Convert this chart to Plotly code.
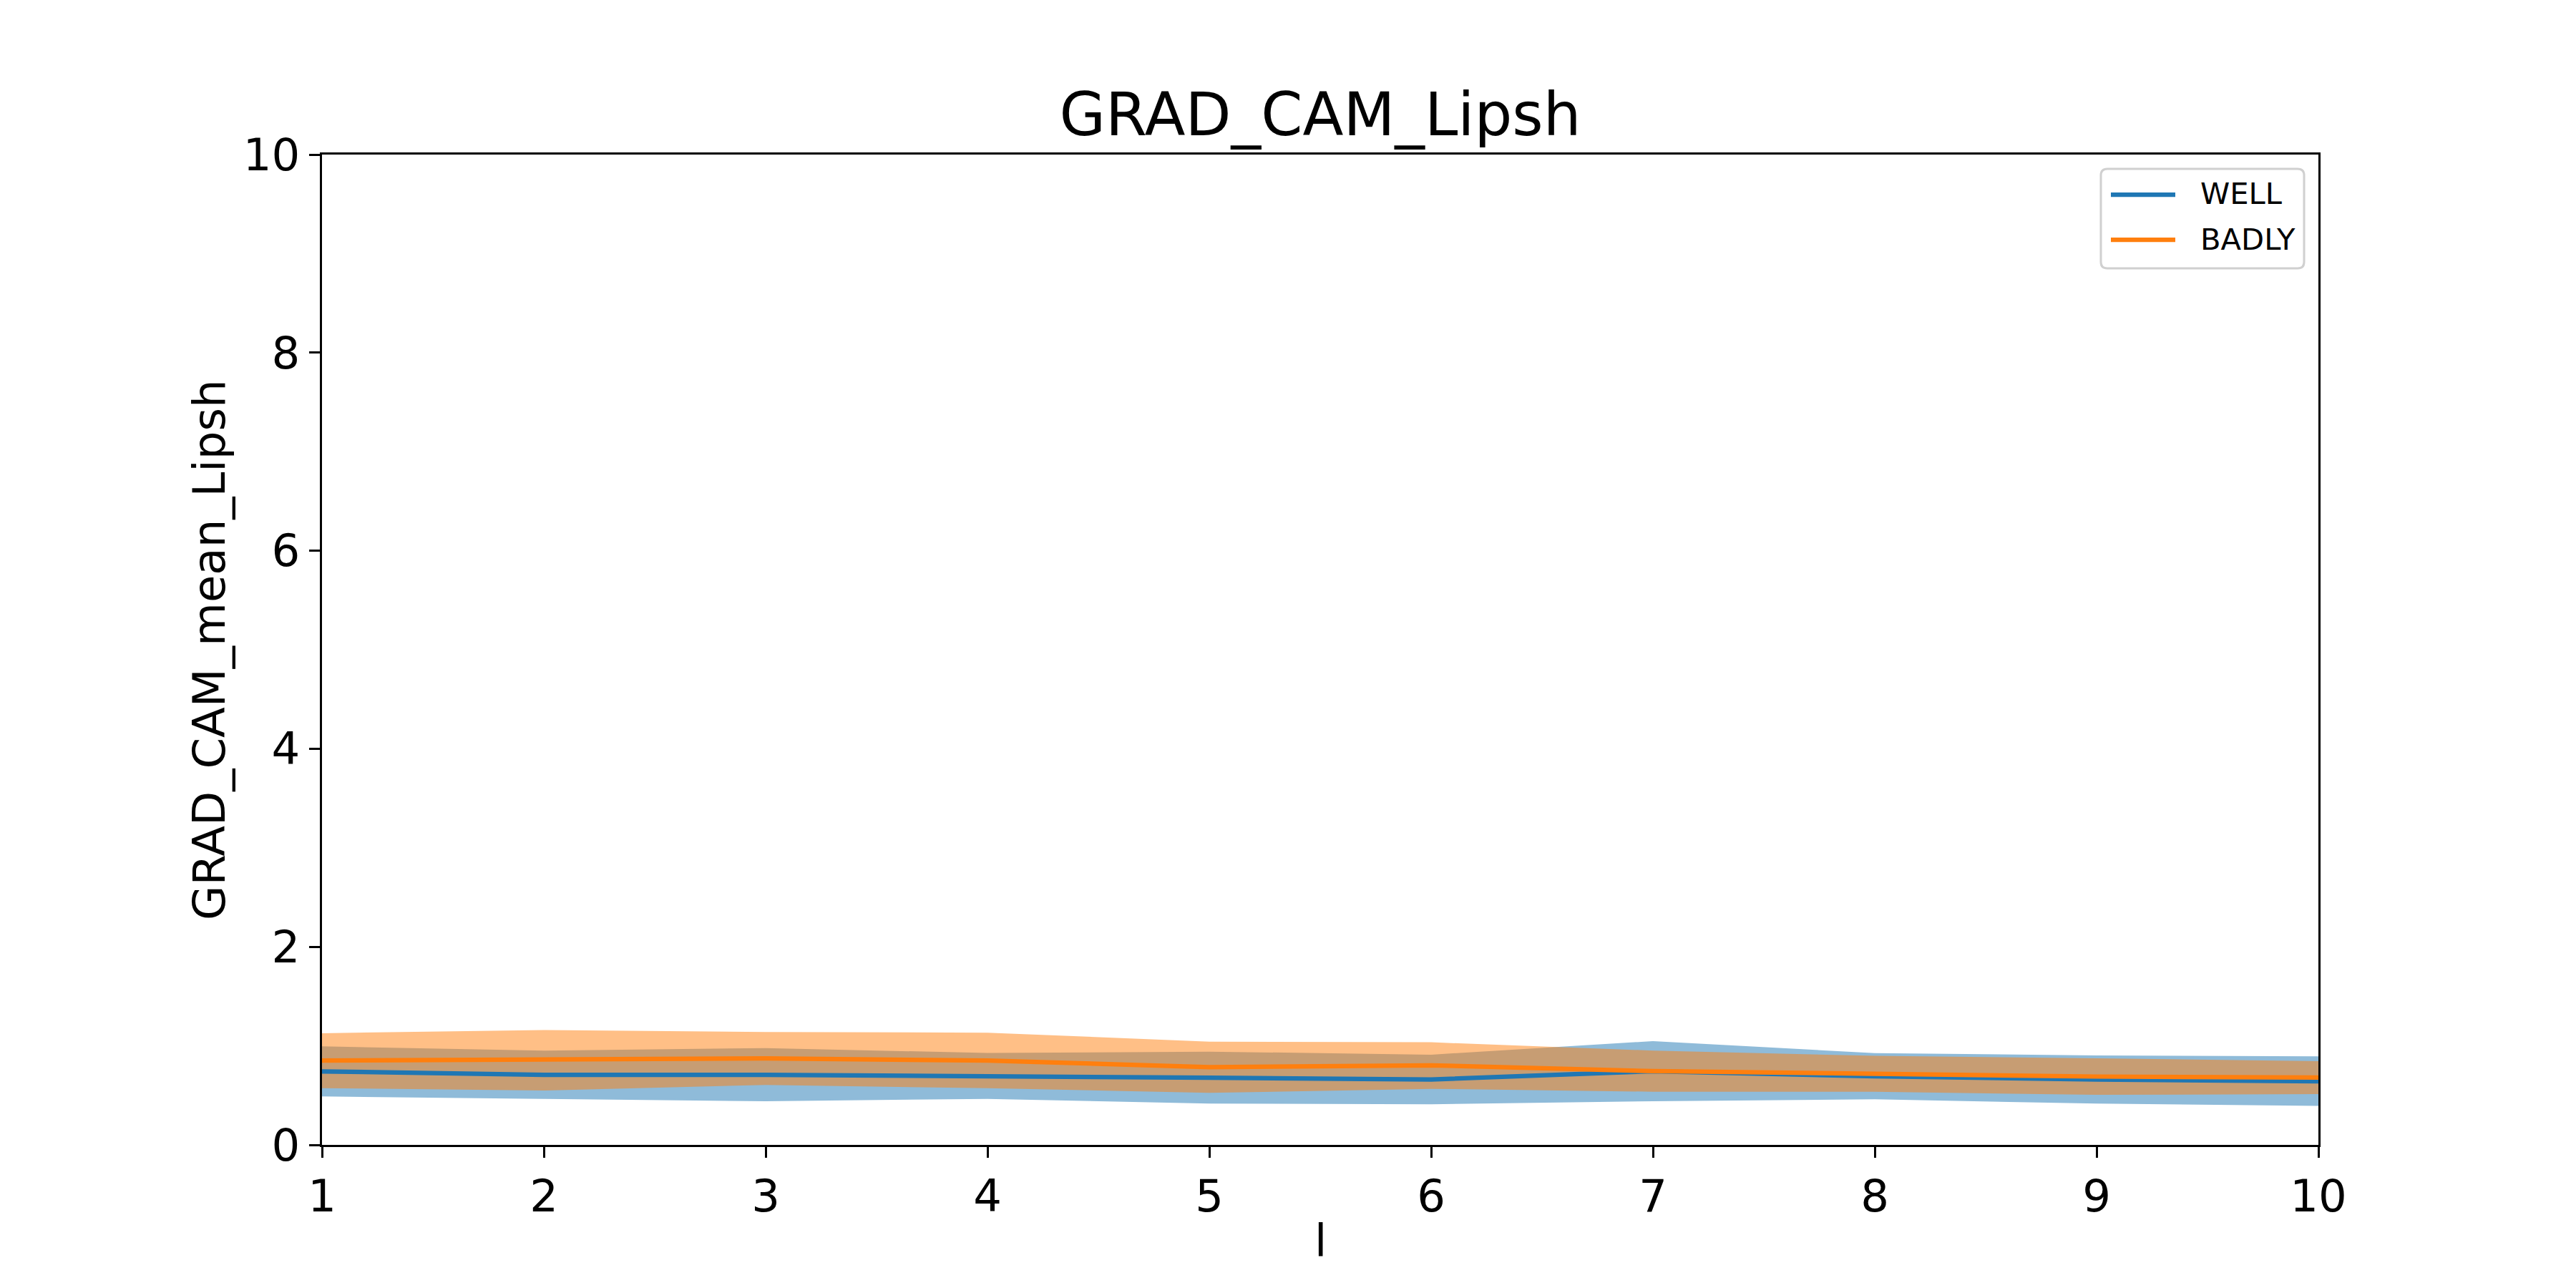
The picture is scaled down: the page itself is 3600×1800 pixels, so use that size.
import plotly.graph_objects as go

# ---- data ----
l_values = [1, 2, 3, 4, 5, 6, 7, 8, 9, 10]

well_mean = [0.742, 0.708, 0.708, 0.696, 0.678, 0.660, 0.744, 0.692, 0.660, 0.643]
well_upper = [0.995, 0.952, 0.978, 0.928, 0.942, 0.911, 1.048, 0.926, 0.904, 0.894]
well_lower = [0.489, 0.465, 0.441, 0.465, 0.417, 0.410, 0.441, 0.460, 0.417, 0.393]

badly_mean = [0.851, 0.858, 0.873, 0.852, 0.785, 0.803, 0.745, 0.718, 0.690, 0.680]
badly_upper = [1.128, 1.159, 1.140, 1.133, 1.043, 1.036, 0.952, 0.899, 0.875, 0.846]
badly_lower = [0.573, 0.549, 0.605, 0.573, 0.525, 0.566, 0.537, 0.537, 0.505, 0.513]

series_names = ["WELL", "BADLY"]
x_ticks = [1, 2, 3, 4, 5, 6, 7, 8, 9, 10]
y_ticks = [0, 2, 4, 6, 8, 10]

title_text = "GRAD_CAM_Lipsh"
x_label = "l"
y_label = "GRAD_CAM_mean_Lipsh"

# ---- styling ----
BLUE = "#1f77b4"
ORANGE = "#ff7f0e"
BLUE_FILL = "rgba(31,119,180,0.5)"
ORANGE_FILL = "rgba(255,127,14,0.5)"
FONT = "DejaVu Sans"

W, H = 3600, 1800
L, R, T, B = 450, 360, 216, 200
PW, PH = W - L - R, H - T - B


def px_x(px):
    return (px - L) / PW


def px_y(py):
    return (H - B - py) / PH


fig = go.Figure()

# filled bands
for upper, lower, fillc, name in [
    (well_upper, well_lower, BLUE_FILL, series_names[0]),
    (badly_upper, badly_lower, ORANGE_FILL, series_names[1]),
]:
    fig.add_trace(go.Scatter(
        x=l_values + l_values[::-1],
        y=upper + lower[::-1],
        fill="toself",
        fillcolor=fillc,
        line=dict(width=0, color=fillc),
        mode="lines",
        hoverinfo="skip",
        showlegend=False,
        name=name + " band",
    ))

# mean lines
fig.add_trace(go.Scatter(x=l_values, y=well_mean, mode="lines", name=series_names[0],
                         line=dict(color=BLUE, width=6.25), showlegend=False))
fig.add_trace(go.Scatter(x=l_values, y=badly_mean, mode="lines", name=series_names[1],
                         line=dict(color=ORANGE, width=6.25), showlegend=False))

axis_common = dict(
    showline=True, linecolor="black", linewidth=3.3, mirror=True,
    ticks="outside", ticklen=15, tickwidth=3.3, tickcolor="black",
    showgrid=False, zeroline=False,
    tickfont=dict(family=FONT, size=62.5, color="black"),
)

# ---- legend box drawn like matplotlib's (rounded frame, long line samples) ----
bx0, bx1, by0, by1 = 2936, 3220, 236, 375
r = 9
x0, x1 = px_x(bx0), px_x(bx1)
yt, yb = px_y(by0), px_y(by1)
rx, ry = r / PW, r / PH
box_path = (
    f"M {x0+rx},{yt} L {x1-rx},{yt} Q {x1},{yt} {x1},{yt-ry} "
    f"L {x1},{yb+ry} Q {x1},{yb} {x1-rx},{yb} "
    f"L {x0+rx},{yb} Q {x0},{yb} {x0},{yb+ry} "
    f"L {x0},{yt-ry} Q {x0},{yt} {x0+rx},{yt} Z"
)
shapes = [dict(type="path", xref="paper", yref="paper", path=box_path,
               fillcolor="rgba(255,255,255,0.8)", line=dict(color="#d0d0d0", width=3))]
annotations = []
legend_rows = [(series_names[0], BLUE, 272), (series_names[1], ORANGE, 335)]
for name, color, ypx in legend_rows:
    shapes.append(dict(type="line", xref="paper", yref="paper",
                       x0=px_x(2950), x1=px_x(3040), y0=px_y(ypx), y1=px_y(ypx),
                       line=dict(color=color, width=6.25)))
    annotations.append(dict(text=name, xref="paper", yref="paper",
                            x=px_x(3073), y=px_y(ypx - 1), xanchor="left", yanchor="middle",
                            showarrow=False, font=dict(family=FONT, size=41.7, color="black")))

annotations += [
    dict(text=x_label, xref="paper", yref="paper", x=0.5, y=px_y(1733),
         xanchor="center", yanchor="middle", showarrow=False,
         font=dict(family=FONT, size=62.5, color="black")),
    dict(text=y_label, xref="paper", yref="paper", x=px_x(292), y=0.5,
         xanchor="center", yanchor="middle", textangle=-90, showarrow=False,
         font=dict(family=FONT, size=62.5, color="black")),
]

fig.update_layout(
    width=W, height=H,
    margin=dict(l=L, r=R, t=T, b=B, pad=0),
    paper_bgcolor="white", plot_bgcolor="white",
    font=dict(family=FONT, color="black"),
    title=dict(text=title_text, x=(L + PW / 2) / W, xanchor="center",
               y=1 - 160 / H, yanchor="middle",
               font=dict(family=FONT, size=83.3, color="black")),
    xaxis=dict(range=[1, 10], tickvals=x_ticks, ticktext=[str(v) for v in x_ticks], **axis_common),
    yaxis=dict(range=[0, 10], tickvals=y_ticks, ticktext=[str(v) for v in y_ticks], **axis_common),
    showlegend=False,
    shapes=shapes,
    annotations=annotations,
)

fig.write_html("out.html", config={"displayModeBar": False},
               post_script="document.body.style.margin='0';")
